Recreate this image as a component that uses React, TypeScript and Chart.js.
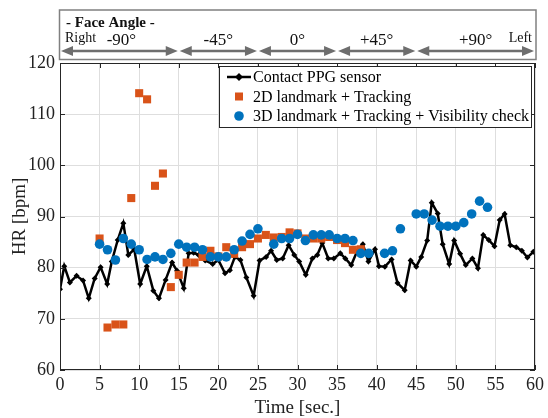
import React, { useEffect, useRef } from 'react';
import { Chart, registerables } from 'chart.js';
Chart.register(...registerables);

// Contact PPG sensor (time [s], HR [bpm])
const ppgTime = [0, 0.54, 1.25, 2.09, 2.91, 3.63, 4.38, 5.13, 5.96, 6.54, 7.29, 8.0, 8.63, 9.38, 10.13, 10.96, 11.79, 12.5, 13.34, 14.16, 14.79, 15.63, 16.25, 16.88, 17.5, 18.34, 19.29, 20.0, 20.84, 21.46, 22.09, 22.79, 23.54, 24.46, 25.21, 26.04, 26.66, 27.38, 28.13, 28.88, 29.59, 30.21, 31.04, 31.88, 32.5, 33.13, 33.88, 34.59, 35.41, 36.04, 36.79, 37.5, 38.25, 38.96, 39.79, 40.29, 41.04, 41.88, 42.63, 43.54, 44.29, 45.0, 45.63, 46.38, 46.96, 47.71, 48.34, 49.16, 49.79, 50.54, 51.25, 52.09, 52.79, 53.46, 54.16, 54.88, 55.54, 56.16, 56.88, 57.63, 58.34, 59.04, 59.79];
const ppgHR = [75.8, 80.3, 77.1, 78.4, 77.5, 74.0, 77.9, 80.1, 76.8, 81.2, 85.4, 88.7, 82.5, 83.6, 76.8, 80.3, 75.5, 74.0, 77.6, 81.0, 79.4, 76.0, 82.8, 82.9, 82.5, 81.4, 80.7, 81.5, 78.9, 79.5, 82.1, 81.5, 78.1, 74.5, 81.4, 82.1, 83.3, 81.5, 81.8, 84.4, 82.5, 81.2, 78.6, 81.8, 82.5, 84.8, 81.8, 81.8, 82.8, 81.8, 80.5, 83.1, 84.6, 81.2, 83.6, 80.3, 80.2, 81.6, 77.0, 75.6, 81.4, 80.2, 82.1, 85.3, 92.7, 90.6, 84.6, 80.7, 85.3, 82.7, 80.5, 81.8, 79.9, 86.4, 85.4, 84.2, 89.3, 90.5, 84.4, 84.0, 83.3, 82.0, 83.1];

// 2D landmark + Tracking
const lm2dTime = [5, 6, 7, 8, 9, 10, 11, 12, 13, 14, 15, 16, 17, 18, 19, 20, 21, 22, 23, 24, 25, 26, 27, 28, 29, 30, 31, 32, 33, 34, 35, 36, 37, 38];
const lm2dHR = [85.7, 68.3, 68.9, 68.9, 93.6, 114.1, 112.9, 96.0, 98.4, 76.2, 78.6, 81.0, 81.0, 82.1, 83.3, 82.2, 84.0, 82.7, 84.0, 84.6, 85.7, 86.4, 85.9, 86.0, 86.9, 86.7, 85.7, 85.7, 85.7, 86.0, 85.4, 84.8, 83.5, 83.6];

// 3D landmark + Tracking + Visibility check
const lm3dTime = [5, 6, 7, 8, 9, 10, 11, 12, 13, 14, 15, 16, 17, 18, 19, 20, 21, 22, 23, 24, 25, 27, 28, 29, 30, 31, 32, 33, 34, 35, 36, 37, 38, 39, 41, 42, 43, 45, 46, 47, 48, 49, 50, 51, 52, 53, 54];
const lm3dHR = [84.6, 83.5, 81.5, 85.7, 84.6, 83.5, 81.6, 82.1, 81.6, 82.8, 84.6, 84.0, 84.0, 83.5, 82.1, 82.1, 82.1, 83.5, 85.2, 86.5, 87.6, 84.6, 85.7, 85.7, 86.5, 85.3, 86.4, 86.4, 86.4, 85.7, 85.7, 85.3, 82.8, 82.8, 82.8, 83.3, 87.6, 90.5, 90.5, 89.3, 88.1, 88.1, 88.1, 88.8, 90.5, 93.0, 91.8];

// Face-angle header
const angleBounds = [0, 15, 25, 35, 45, 60];
const angleLabels = ['-90°', '-45°', '0°', '+45°', '+90°'];
const legendLabels = ['Contact PPG sensor', '2D landmark + Tracking', '3D landmark + Tracking + Visibility check'];

const SERIF = "'Liberation Serif', 'Times New Roman', serif";
const ORANGE = '#D95319';
const BLUE = '#0072BD';

function arrowHead(ctx: CanvasRenderingContext2D, x: number, y: number, dir: number) {
  const len = 12, half = 5;
  ctx.beginPath();
  ctx.moveTo(x, y);
  ctx.lineTo(x - dir * len, y - half);
  ctx.lineTo(x - dir * len, y + half);
  ctx.closePath();
  ctx.fill();
}

const overlayPlugin = {
  id: 'overlay',
  afterDraw(chart: any) {
    const ctx: CanvasRenderingContext2D = chart.ctx;
    const { left, right, top, bottom } = chart.chartArea;
    const xs = chart.scales.x;
    const ys = chart.scales.y;
    ctx.save();
    // axes box
    ctx.strokeStyle = '#262626';
    ctx.lineWidth = 1;
    ctx.strokeRect(left + 0.5, top + 0.5, right - left - 1, bottom - top - 1);
    // inward ticks
    ctx.beginPath();
    for (let v = 0; v <= 60; v += 5) {
      const px = Math.round(xs.getPixelForValue(v)) + 0.5;
      ctx.moveTo(px, bottom); ctx.lineTo(px, bottom - 5);
      ctx.moveTo(px, top); ctx.lineTo(px, top + 5);
    }
    for (let v = 60; v <= 120; v += 10) {
      const py = Math.round(ys.getPixelForValue(v)) + 0.5;
      ctx.moveTo(left, py); ctx.lineTo(left + 5, py);
      ctx.moveTo(right, py); ctx.lineTo(right - 5, py);
    }
    ctx.stroke();

    // header box
    ctx.strokeStyle = '#808080';
    ctx.lineWidth = 1.5;
    ctx.strokeRect(left - 0.5, 10, right - left + 1.5, 49.5);
    ctx.fillStyle = '#111';
    ctx.font = `bold 15px ${SERIF}`;
    ctx.textAlign = 'left';
    ctx.textBaseline = 'alphabetic';
    ctx.fillText('- Face Angle -', left + 6, 27);
    ctx.font = `14px ${SERIF}`;
    ctx.fillText('Right', left + 5, 42);
    ctx.textAlign = 'right';
    ctx.fillText('Left', right - 3, 42);
    ctx.font = `17px ${SERIF}`;
    ctx.textAlign = 'center';
    const ay = 51;
    ctx.strokeStyle = '#6e6e6e';
    ctx.fillStyle = '#6e6e6e';
    ctx.lineWidth = 2.5;
    for (let i = 0; i < angleLabels.length; i++) {
      const x1 = xs.getPixelForValue(angleBounds[i]) + 1;
      const x2 = xs.getPixelForValue(angleBounds[i + 1]) - 1;
      ctx.beginPath();
      ctx.moveTo(x1 + 6, ay); ctx.lineTo(x2 - 6, ay);
      ctx.stroke();
      arrowHead(ctx, x1, ay, -1);
      arrowHead(ctx, x2, ay, 1);
    }
    ctx.fillStyle = '#111';
    for (let i = 0; i < angleLabels.length; i++) {
      const cx = (xs.getPixelForValue(angleBounds[i]) + xs.getPixelForValue(angleBounds[i + 1])) / 2;
      ctx.fillText(angleLabels[i], cx + (i === 0 ? 2 : 0), 45);
    }

    // axis titles
    ctx.fillStyle = '#222';
    ctx.font = `19px ${SERIF}`;
    ctx.textAlign = 'center';
    ctx.textBaseline = 'middle';
    ctx.fillText('Time [sec.]', (left + right) / 2, 408);
    ctx.save();
    ctx.translate(20, (top + bottom) / 2);
    ctx.rotate(-Math.PI / 2);
    ctx.fillText('HR [bpm]', 0, 0);
    ctx.restore();

    // legend
    const lx = 219, ly = 66, lw = 312, lh = 61;
    ctx.fillStyle = '#fff';
    ctx.fillRect(lx, ly, lw, lh);
    ctx.strokeStyle = '#262626';
    ctx.lineWidth = 1;
    ctx.strokeRect(lx + 0.5, ly + 0.5, lw, lh);
    const rows = [77, 96.5, 116];
    const mx = 239;
    // row 1: line + diamond
    ctx.strokeStyle = '#000';
    ctx.lineWidth = 2.5;
    ctx.beginPath(); ctx.moveTo(227, rows[0]); ctx.lineTo(251, rows[0]); ctx.stroke();
    ctx.fillStyle = '#000';
    ctx.beginPath();
    ctx.moveTo(mx, rows[0] - 4); ctx.lineTo(mx + 4, rows[0]); ctx.lineTo(mx, rows[0] + 4); ctx.lineTo(mx - 4, rows[0]);
    ctx.closePath(); ctx.fill();
    // row 2: square
    ctx.fillStyle = ORANGE;
    ctx.fillRect(mx - 4, rows[1] - 4, 8, 8);
    // row 3: circle
    ctx.fillStyle = BLUE;
    ctx.beginPath(); ctx.arc(mx, rows[2], 4.8, 0, Math.PI * 2); ctx.fill();
    ctx.fillStyle = '#000';
    ctx.font = `16px ${SERIF}`;
    ctx.textAlign = 'left';
    ctx.textBaseline = 'middle';
    legendLabels.forEach((t, i) => ctx.fillText(t, 253, rows[i] + 1));
    ctx.restore();
  },
};

export default function App() {
  const ref = useRef<HTMLCanvasElement>(null);
  useEffect(() => {
    if (!ref.current) return;
    const toPts = (xs: number[], ys: number[]) => xs.map((x, i) => ({ x, y: ys[i] }));
    const chart = new Chart(ref.current, {
      type: 'scatter',
      data: {
        datasets: [
          {
            label: legendLabels[0],
            data: toPts(ppgTime, ppgHR),
            showLine: true,
            borderColor: '#000',
            backgroundColor: '#000',
            borderWidth: 2.5,
            pointStyle: 'rectRot',
            pointRadius: 3,
            pointBorderWidth: 0,
            order: 3,
          },
          {
            label: legendLabels[1],
            data: toPts(lm2dTime, lm2dHR),
            showLine: false,
            backgroundColor: ORANGE,
            borderColor: ORANGE,
            pointStyle: 'rect',
            pointRadius: 5.7,
            pointBorderWidth: 0,
            order: 2,
          },
          {
            label: legendLabels[2],
            data: toPts(lm3dTime, lm3dHR),
            showLine: false,
            backgroundColor: BLUE,
            borderColor: BLUE,
            pointStyle: 'circle',
            pointRadius: 4.8,
            pointBorderWidth: 0,
            order: 1,
          },
        ],
      },
      options: {
        responsive: false,
        animation: false,
        events: [],
        layout: { padding: { top: 63, right: 8.5, left: 0, bottom: 0 } },
        plugins: { legend: { display: false }, tooltip: { enabled: false } },
        scales: {
          x: {
            type: 'linear',
            min: 0,
            max: 60,
            afterFit: (s: any) => { s.height = 48; },
            ticks: { stepSize: 5, padding: 4, color: '#222', font: { family: SERIF, size: 18 } },
            grid: { color: '#dedede', drawTicks: false },
            border: { display: false },
          },
          y: {
            type: 'linear',
            min: 60,
            max: 120,
            afterFit: (s: any) => { s.width = 60; },
            ticks: { stepSize: 10, padding: 5, color: '#222', font: { family: SERIF, size: 18 } },
            grid: { color: '#dedede', drawTicks: false },
            border: { display: false },
          },
        },
      },
      plugins: [overlayPlugin],
    } as any);
    return () => chart.destroy();
  }, []);
  return (
    <div style={{ position: 'absolute', left: 0, top: 0, width: 548, height: 418, background: '#fff' }}>
      <canvas ref={ref} width={548} height={418} />
    </div>
  );
}
